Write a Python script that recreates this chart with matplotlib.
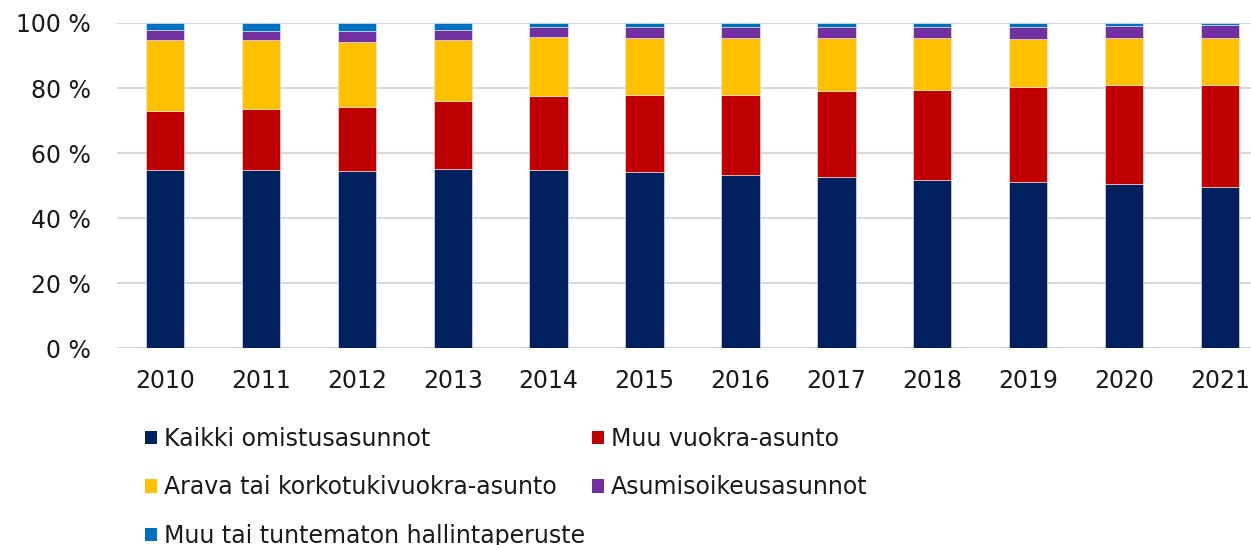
import matplotlib.pyplot as plt
import numpy as np
from matplotlib.patches import Patch

plt.rcParams['font.family'] = ['DejaVu Sans']

# Asuntokuntien jakauma hallintaperusteen mukaan (%)
years = ['2010', '2011', '2012', '2013', '2014', '2015',
         '2016', '2017', '2018', '2019', '2020', '2021']
omistus = [54.8, 54.8, 54.65, 55.2, 54.8, 54.15, 53.2, 52.6, 51.7, 51.1, 50.65, 49.7]
muu_vuokra = [18.3, 18.8, 19.65, 20.7, 22.8, 23.85, 24.75, 26.6, 27.8, 29.1, 30.15, 31.3]
arava = [21.7, 21.05, 20.0, 18.95, 18.0, 17.5, 17.35, 16.2, 15.9, 15.0, 14.7, 14.3]
asumisoikeus = [3.05, 2.95, 3.2, 3.0, 3.05, 3.15, 3.35, 3.35, 3.35, 3.45, 3.7, 4.0]
muu_tuntematon = [2.15, 2.4, 2.5, 2.15, 1.35, 1.35, 1.35, 1.25, 1.25, 1.35, 0.8, 0.7]

series = [
    ('Kaikki omistusasunnot', omistus, '#002060'),
    ('Muu vuokra-asunto', muu_vuokra, '#C00000'),
    ('Arava tai korkotukivuokra-asunto', arava, '#FFC000'),
    ('Asumisoikeusasunnot', asumisoikeus, '#7030A0'),
    ('Muu tai tuntematon hallintaperuste', muu_tuntematon, '#0070C0'),
]

W, H = 1251, 545
fig = plt.figure(figsize=(W / 100, H / 100), dpi=100)
ax = fig.add_axes([117 / W, (H - 348.3) / H, (1268 - 117) / W, 325.3 / H])

x = np.arange(len(years))
bottom = np.zeros(len(years))
for name, vals, col in series:
    ax.bar(x, vals, width=0.4, bottom=bottom, color=col,
           edgecolor='#f2f2f2', linewidth=0.4, zorder=3)
    bottom += np.array(vals)

ax.set_xlim(-0.5, len(years) - 0.5)
ax.set_ylim(0, 100)
ax.set_yticks(range(0, 101, 20))
ax.set_yticklabels([f'{v} %' for v in range(0, 101, 20)])
ax.set_xticks(x)
ax.set_xticklabels(years)
ax.tick_params(axis='both', length=0, labelsize=17, colors='#1a1a1a')
ax.tick_params(axis='x', pad=15)
ax.tick_params(axis='y', pad=19)
ax.yaxis.grid(True, color='#d9d9d9', linewidth=1.5, zorder=0)
for s in ax.spines.values():
    s.set_visible(False)

# legend: column-wise order gives the row layout
order = [0, 2, 4, 1, 3]
handles = [Patch(facecolor=series[i][2], edgecolor='none') for i in order]
labels = [series[i][0] for i in order]
fig.legend(handles, labels, ncol=2, loc='upper left',
           bbox_to_anchor=(145 / W, 1 - 427 / H), frameon=False,
           fontsize=17, labelcolor='#1a1a1a',
           handlelength=0.5, handleheight=0.5, handletextpad=0.3,
           labelspacing=1.03, columnspacing=0.3,
           borderaxespad=0, borderpad=0)

fig.savefig('out.png', dpi=100)
